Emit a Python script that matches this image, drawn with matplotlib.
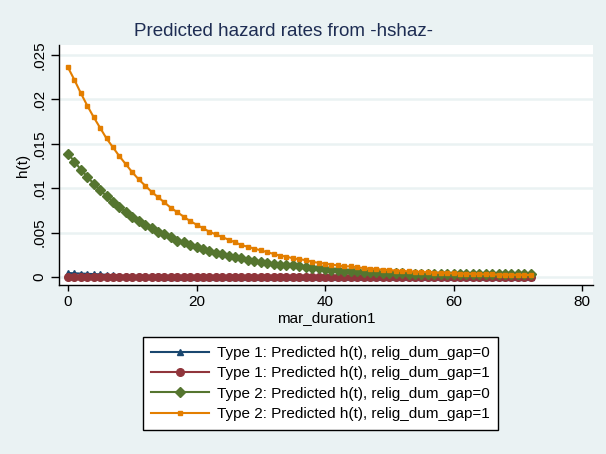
import matplotlib
matplotlib.use("Agg")
import matplotlib.pyplot as plt

# analysis time (months)
mar_duration = list(range(0, 73))

# Type 1, relig_dum_gap=0
h_t1_gap0 = [.00045, .00042, .00039, .00036, .00033, .00030, .00024, .00019, .00015, .00012,
             .00010, .00008, .00007, .00007, .00006, .00005, .00005, .00004, .00004, .00004,
             .00003, .00003, .00003, .00003, .00003, .00002, .00002, .00002, .00002, .00002,
             .00002, .00002, .00002, .00002, .00002, .00002, .00002, .00002, .00002, .00002,
             .00001, .00001, .00001, .00001, .00001, .00001, .00001, .00001, .00001, .00001,
             .00001, .00001, .00001, .00001, .00001, .00001, .00001, .00001, .00001, .00001,
             .00001, .00001, .00001, .00001, .00001, .00001, .00001, .00001, .00001, .00001,
             .00001, .00001, .00001]
# Type 1, relig_dum_gap=1
h_t1_gap1 = [.00004, .00004, .00004, .00004, .00004, .00004, .00004, .00004, .00004, .00004,
             .00003, .00003, .00003, .00003, .00003, .00003, .00003, .00003, .00003, .00003,
             .00003, .00003, .00003, .00003, .00003, .00003, .00003, .00003, .00003, .00003,
             .00002, .00002, .00002, .00002, .00002, .00002, .00002, .00002, .00002, .00002,
             .00002, .00002, .00002, .00002, .00002, .00002, .00002, .00002, .00002, .00002,
             .00002, .00002, .00002, .00002, .00002, .00002, .00002, .00002, .00002, .00002,
             .00002, .00002, .00002, .00002, .00002, .00002, .00002, .00002, .00002, .00002,
             .00002, .00002, .00002]
# Type 2, relig_dum_gap=0
h_t2_gap0 = [.0139, .0130, .0121, .0113, .0105, .0098, .0091, .0085, .0079, .0073,
             .0068, .0063, .0059, .0055, .0051, .0048, .0045, .0041, .0039, .0036,
             .0034, .0031, .0029, .0027, .0026, .0024, .0022, .0021, .0019, .0018,
             .0017, .0016, .0015, .0014, .0013, .0013, .0012, .0011, .0010, .00097,
             .00091, .00084, .00078, .00072, .00067, .00063, .00059, .00055, .00052, .00049,
             .00046, .00043, .00041, .00039, .00037, .00036, .00035, .00034, .00033, .00033,
             .00032, .00032, .00032, .00031, .00031, .00031, .00031, .00030, .00030, .00030,
             .00030, .00030, .00030]
# Type 2, relig_dum_gap=1
h_t2_gap1 = [.0236, .0222, .0207, .0193, .0180, .0168, .0156, .0146, .0136, .0127,
             .0118, .0110, .0103, .0096, .0090, .0084, .0078, .0073, .0068, .0063,
             .0059, .0055, .0051, .0048, .0045, .0042, .0039, .0036, .0034, .0032,
             .0030, .0028, .0026, .0024, .0023, .0021, .0020, .0019, .0017, .0016,
             .0015, .0014, .0013, .0012, .0012, .0011, .0010, .00095, .00089, .00083,
             .00078, .00073, .00068, .00064, .00060, .00056, .00052, .00049, .00046, .00043,
             .00040, .00038, .00036, .00034, .00032, .00030, .00029, .00027, .00026, .00025,
             .00024, .00023, .00022]

labels = ["Type 1: Predicted h(t), relig_dum_gap=0",
          "Type 1: Predicted h(t), relig_dum_gap=1",
          "Type 2: Predicted h(t), relig_dum_gap=0",
          "Type 2: Predicted h(t), relig_dum_gap=1"]
yticks = [0, .005, .01, .015, .02, .025]
ytick_labels = ["0", ".005", ".01", ".015", ".02", ".025"]
xticks = [0, 20, 40, 60, 80]

bg = "#EAF2F3"
plt.rcParams["font.family"] = ["Liberation Sans", "DejaVu Sans"]

W, H = 606, 454
fig = plt.figure(figsize=(W / 100, H / 100), dpi=100, facecolor=bg)
ax = fig.add_axes([59 / W, 1 - 285 / H, (593 - 59) / W, (285 - 45) / H])
ax.set_facecolor("white")

ax.plot(mar_duration, h_t1_gap0, color="#1A476F", lw=1.5, marker="^", ms=5, label=labels[0])
ax.plot(mar_duration, h_t1_gap1, color="#90353B", lw=1.5, marker="o", ms=5.5, label=labels[1])
ax.plot(mar_duration, h_t2_gap0, color="#55752F", lw=1.5, marker="D", ms=5.2, label=labels[2])
ax.plot(mar_duration, h_t2_gap1, color="#E37E00", lw=1.5, marker="s", ms=2.6, label=labels[3])

ax.set_xlim(-1.4, 81.7)
ax.set_ylim(-0.0009, 0.02613)
ax.set_xticks(xticks)
ax.set_yticks(yticks)
ax.set_yticklabels(ytick_labels, rotation=90, va="center")
ax.grid(axis="y", color=bg, lw=1.8)
ax.set_axisbelow(True)
for s in ["top", "right"]:
    ax.spines[s].set_visible(False)
ax.spines["left"].set_linewidth(1)
ax.spines["bottom"].set_linewidth(1)
ax.tick_params(axis="x", length=4, width=1, labelsize=11, pad=3)
ax.tick_params(axis="y", length=6, width=1, labelsize=11, pad=3)
ax.set_xlabel("mar_duration1", fontsize=11, labelpad=2)
ax.set_ylabel("h(t)", fontsize=11, labelpad=2)

fig.text(283.5 / W, 1 - 31 / H, "Predicted hazard rates from -hshaz-",
         ha="center", va="center", fontsize=13.5, color="#1E2D53")

leg = fig.legend(loc="center", bbox_to_anchor=(320.5 / W, 1 - 383.5 / H),
                 fontsize=11, frameon=True, fancybox=False, edgecolor="black",
                 facecolor="white", framealpha=1, handlelength=3.8,
                 handletextpad=0.5, labelspacing=0.42, borderpad=0.55,
                 borderaxespad=0)
leg.get_frame().set_linewidth(1)

fig.savefig("out.png", dpi=100, facecolor=bg)
